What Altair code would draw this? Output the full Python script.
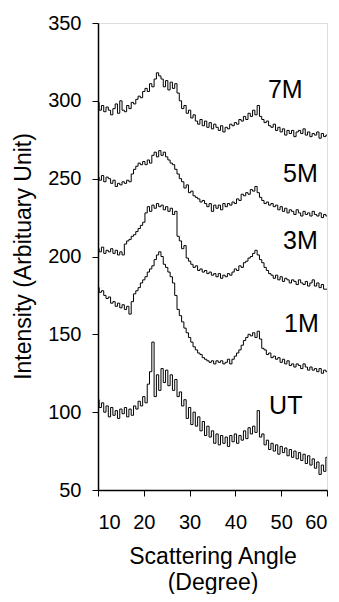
import altair as alt
import pandas as pd

angles = [
    10.0, 10.5, 11.0, 11.5, 12.0, 12.5, 13.0, 13.5, 14.0, 14.5,
    15.0, 15.5, 16.0, 16.5, 17.0, 17.5, 18.0, 18.5, 19.0, 19.5,
    20.0, 20.5, 21.0, 21.5, 22.0, 22.5, 23.0, 23.5, 24.0, 24.5,
    25.0, 25.5, 26.0, 26.5, 27.0, 27.5, 28.0, 28.5, 29.0, 29.5,
    30.0, 30.5, 31.0, 31.5, 32.0, 32.5, 33.0, 33.5, 34.0, 34.5,
    35.0, 35.5, 36.0, 36.5, 37.0, 37.5, 38.0, 38.5, 39.0, 39.5,
    40.0, 40.5, 41.0, 41.5, 42.0, 42.5, 43.0, 43.5, 44.0, 44.5,
    45.0, 45.5, 46.0, 46.5, 47.0, 47.5, 48.0, 48.5, 49.0, 49.5,
    50.0, 50.5, 51.0, 51.5, 52.0, 52.5, 53.0, 53.5, 54.0, 54.5,
    55.0, 55.5, 56.0, 56.5, 57.0, 57.5, 58.0, 58.5, 59.0, 59.5,
    60.0,
]

s7M = [
    299, 294, 297, 293, 296, 294, 291, 295, 298, 292,
    300, 294, 293, 297, 295, 299, 298, 301, 303, 302,
    306, 308, 306, 311, 309, 314, 318, 316, 314, 309,
    313, 307, 312, 308, 311, 305, 300, 295, 297, 292,
    294, 289, 291, 287, 285, 288, 284, 287, 283, 286,
    282, 285, 283, 281, 284, 280, 283, 282, 285, 284,
    286, 285, 288, 287, 290, 288, 292, 290, 294, 291,
    297, 290, 288, 286, 287, 284, 283, 285, 281, 283,
    280, 282, 278, 281, 279, 281, 277, 280, 281, 279,
    282, 278, 280, 277, 279, 278, 280, 276, 279, 277,
    278,
]

s5M = [
    251, 249, 252, 248, 251, 250, 247, 249, 245, 247,
    246, 248, 247, 249, 248, 253, 256, 258, 260, 259,
    261, 259, 262, 260, 265, 267, 264, 268, 265, 267,
    264, 262, 260, 259, 256, 253, 250, 248, 244, 246,
    241, 242, 239, 238, 237, 235, 236, 234, 232, 234,
    229, 233, 231, 233, 230, 234, 232, 234, 233, 235,
    234, 237, 236, 240, 239, 241, 240, 243, 242, 245,
    241, 238, 236, 234, 235, 233, 234, 232, 233, 230,
    232, 229, 231, 228, 230, 229, 227, 230, 228, 226,
    229, 227, 228, 226, 229, 227, 226, 228, 225, 227,
    226,
]

s3M = [
    205, 203, 206, 202, 204, 203, 205, 202, 204, 201,
    203, 201, 208, 210, 211, 213, 214, 216, 218, 220,
    222, 228, 232, 229, 233, 231, 234, 232, 233, 230,
    232, 229, 231, 227, 229, 213, 210, 205, 207, 199,
    197, 195, 193, 194, 191, 192, 190, 191, 189, 190,
    188, 189, 187, 189, 186, 188, 187, 189, 188, 190,
    192, 191, 194, 193, 196, 197, 199, 200, 202, 204,
    201, 198, 196, 193, 191, 189, 188, 186, 188, 185,
    187, 184, 186, 185, 183, 185, 184, 182, 185, 183,
    182, 184, 181, 183, 185, 181, 183, 180, 182, 179,
    179,
]

s1M = [
    180, 177, 178, 175, 173, 174, 170, 171, 168, 170,
    167, 169, 166, 168, 163, 171, 176, 178, 180, 183,
    185, 187, 190, 192, 194, 198, 201, 203, 200, 195,
    193, 190, 187, 183, 175, 166, 162, 158, 154, 151,
    148, 145, 142, 140, 138, 137, 135, 134, 133, 132,
    133, 131, 133, 132, 133, 131, 132, 134, 131, 134,
    136, 138, 140, 143, 146, 148, 150, 149, 151, 148,
    152, 147, 141, 140, 137, 138, 135, 136, 134, 135,
    132, 134, 131, 133, 130, 131, 129, 131, 130, 128,
    131, 129, 127, 129, 127, 128, 126, 128, 125, 127,
    126,
]

sUT = [
    108, 103, 106, 100, 104, 97, 103, 98, 101, 96,
    102, 99, 103, 97, 102, 98, 104, 102, 107, 104,
    110, 106, 118, 126, 145, 110, 124, 114, 128, 119,
    127, 117, 124, 114, 121, 110, 113, 104, 108, 96,
    103, 92, 100, 91, 97, 88, 94, 85, 91, 84,
    88, 80, 86, 79, 85, 80, 84, 78, 85, 81,
    86, 80, 85, 82, 88, 83, 90, 86, 91, 87,
    101, 84, 86, 79, 82, 76, 80, 75, 79, 73,
    78, 74, 77, 72, 76, 71, 75, 70, 74, 69,
    73, 67, 72, 66, 70, 64, 68, 60, 66, 62,
    71,
]

series_names = ["7M", "5M", "3M", "1M", "UT"]
series_values = [s7M, s5M, s3M, s1M, sUT]

label_text = ["7M", "5M", "3M", "1M", "UT"]
label_x = [50.9, 54.2, 54.2, 54.4, 51.0]
label_y = [307.2, 252.9, 210.2, 156.9, 103.7]

x_ticks = [10, 20, 30, 40, 50, 60]
y_ticks = [50, 100, 150, 200, 250, 300, 350]

rows = []
for name, vals in zip(series_names, series_values):
    for a, v in zip(angles, vals):
        rows.append({"series": name, "angle": a, "intensity": v})
df = pd.DataFrame(rows)
labels_df = pd.DataFrame({"text": label_text, "angle": label_x, "intensity": label_y})

FONT = "Liberation Sans"

x_scale = alt.Scale(domain=[10, 60], nice=False, zero=False)
y_scale = alt.Scale(domain=[50, 350], nice=False, zero=False)

lines = alt.Chart(df).mark_line(
    color="black", strokeWidth=1.0, interpolate="step"
).encode(
    x=alt.X(
        "angle:Q",
        scale=x_scale,
        axis=alt.Axis(
            values=x_ticks,
            title=["Scattering  Angle", "(Degree)"],
            titleFontSize=23,
            titleFontWeight="normal",
            titleFont=FONT,
            titleColor="black",
            titleBaseline="alphabetic",
            titleY=73,
            titleLineHeight=26,
            labelFontSize=20,
            labelFont=FONT,
            labelColor="black",
            labelPadding=16,
            tickSize=6,
            tickColor="black",
            domainColor="black",
            domainWidth=1.5,
            grid=False,
        ),
    ),
    y=alt.Y(
        "intensity:Q",
        scale=y_scale,
        axis=alt.Axis(
            values=y_ticks,
            title="Intensity (Arbituary Unit)",
            titleFontSize=23,
            titleFontWeight="normal",
            titleFont=FONT,
            titleColor="black",
            titleAngle=270,
            titleBaseline="alphabetic",
            titleAlign="center",
            titleX=-68,
            titleY=233,
            labelFontSize=20,
            labelFont=FONT,
            labelColor="black",
            labelPadding=11,
            tickSize=6,
            tickColor="black",
            domainColor="black",
            domainWidth=1.5,
            grid=False,
        ),
    ),
    detail="series:N",
)

texts = alt.Chart(labels_df).mark_text(
    font=FONT, fontSize=25, color="black", align="center", baseline="middle"
).encode(
    x=alt.X("angle:Q", scale=x_scale),
    y=alt.Y("intensity:Q", scale=y_scale),
    text="text:N",
)

chart = alt.layer(lines, texts).properties(
    width=229,
    height=467,
    autosize=alt.AutoSizeParams(type="none"),
    padding={"left": 90, "top": 15, "right": 4, "bottom": 104},
).configure_view(
    stroke="black", strokeWidth=1.5
).configure(background="white")

chart.save("out.html", embed_options={"renderer": "svg", "actions": False})
